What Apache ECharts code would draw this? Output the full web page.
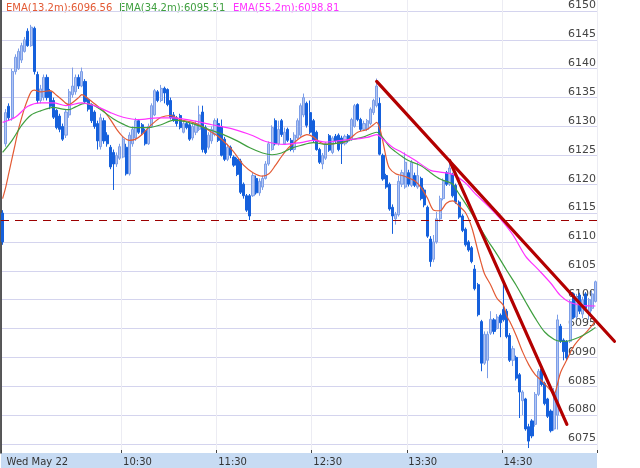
<!DOCTYPE html>
<html>
<head>
<meta charset="utf-8">
<script src="https://cdn.jsdelivr.net/npm/echarts@6/dist/echarts.min.js"></script>
<style>
html,body{margin:0;padding:0;background:#fff;}
#chart{width:640px;height:468px;}
</style>
</head>
<body>
<div id="chart"></div>
<script>
// ---- categories (2-minute bars) ----
const times = [];
for (let m = 554; m <= 928; m += 2) {
  times.push(String(Math.floor(m / 60)).padStart(2, '0') + ':' + String(m % 60).padStart(2, '0'));
}
const tickIndex = [0, 38, 68, 98, 128, 158];
const tickText = ['Wed May 22', '10:30', '11:30', '12:30', '13:30', '14:30'];

// ---- y axis ----
const yMin = 6075, yMax = 6150, yStep = 5;
const prevClose = 6113.8;

// ---- candles: [open, close, low, high] ----
const ohlc = [
[6115,6110,6109.5,6115.5],[6127,6132.4,6126.5,6133],[6133.5,6131.5,6131,6134],[6131.5,6139.5,6131,6140],
[6139.5,6142,6139,6142.5],[6140,6143,6139.8,6143.5],[6141.5,6144,6141,6144.5],[6143,6145,6142.8,6145.5],
[6146.5,6144,6143.8,6147],[6144,6147.2,6143.8,6147.6],[6147,6139.5,6139,6147.3],[6139,6134.5,6134,6139.5],
[6134.5,6136.5,6134,6137.2],[6135,6138.5,6134.5,6139],[6138.5,6135,6134.5,6139],[6136,6133.5,6133,6136.5],
[6134.5,6131.6,6131.3,6135],[6132.8,6129.8,6129.5,6133],[6131.8,6129.5,6129,6132.2],[6130,6127.8,6127.5,6130.5],
[6128.5,6132.5,6128,6133],[6132,6136,6131.5,6136.5],[6135.5,6137,6135,6140.2],[6136,6138.5,6135.5,6139],
[6138.5,6137,6136.5,6139],[6137,6139.5,6136.8,6140.2],[6137.8,6134.3,6134,6138.2],[6134.7,6133,6132.6,6135],
[6133.8,6131,6130.6,6134],[6132.5,6130,6129.6,6132.8],[6130.5,6127.5,6126,6131],[6126.5,6131.5,6126,6132.2],
[6131,6127.5,6127,6131.5],[6128.5,6127,6126.5,6129],[6126.4,6123,6122.6,6126.8],[6125.5,6123.5,6119,6126],
[6123.5,6125,6123,6125.5],[6124.5,6126.5,6124.2,6127],[6124.7,6127.8,6124.5,6128.2],[6126.4,6121.8,6121.5,6127],
[6121.8,6128.5,6121.5,6129],[6127,6129.5,6126.5,6130],[6128,6131,6127.5,6131.5],[6131,6129,6128.7,6131.3],
[6130.3,6128.9,6128.5,6130.6],[6129.3,6127,6126.7,6129.6],[6127,6130,6126.8,6130.5],[6130,6133.6,6129.8,6134],
[6132,6136.2,6131.8,6136.5],[6136,6134.5,6134.2,6136.3],[6134.5,6136.6,6134.2,6137.2],[6136.6,6135.8,6134,6136.9],
[6136.4,6133.8,6133.5,6136.6],[6134.5,6131.5,6131.2,6135],[6132,6131,6130.8,6132.5],[6131.5,6130.5,6130,6131.8],
[6131.9,6129.8,6129.5,6132.2],[6129,6130.5,6128.8,6131],[6130.5,6129.8,6129.5,6130.8],[6130.3,6127.8,6127.5,6130.6],
[6128,6130,6127.6,6130.5],[6129,6130.5,6128.5,6131],[6129.5,6132,6129.2,6133.6],[6132.5,6126,6125.5,6133.6],
[6129.8,6125.5,6125.2,6130.2],[6126.4,6128.5,6126,6129],[6127.5,6129.5,6127,6130],[6128.6,6131,6128.3,6131.4],
[6130.5,6127.6,6127.3,6131.4],[6130,6125,6124.8,6131.2],[6127.8,6124.3,6124,6128.2],[6124.3,6126.4,6124,6127],
[6126.4,6125,6124.5,6126.7],[6124.7,6123.3,6123,6125],[6124.3,6121.7,6121.4,6124.6],[6124,6118.6,6118.3,6124.4],
[6120,6118,6117.5,6120.3],[6118,6115.5,6115.2,6118.3],[6118,6114.5,6113.8,6118.3],[6118,6121.5,6117.8,6122],
[6121,6118.5,6118.2,6121.5],[6118.5,6120.5,6118,6121],[6119.5,6121,6119,6121.5],[6121,6123.5,6120.8,6124],
[6123.5,6127,6123.2,6127.4],[6126,6129.8,6125.8,6130.2],[6131,6127,6126.7,6131.4],[6127,6129.5,6126.7,6131],
[6131,6128.6,6128.2,6131.3],[6127,6129,6126.8,6129.8],[6129.5,6127.6,6127.3,6129.8],[6127.6,6126,6125.7,6128],
[6126,6128.5,6125.5,6129],[6128,6131,6127.8,6131.4],[6128.5,6133.6,6128.2,6134],[6132,6135,6131.6,6135.7],
[6134,6130.2,6129.8,6134.3],[6132.4,6129,6128.7,6134.5],[6131,6127.6,6127.3,6131.3],[6129,6126,6125.8,6129.3],
[6126,6123.8,6123.5,6126.3],[6123.5,6125,6122.6,6125.4],[6124.5,6127,6124.2,6127.3],[6128.4,6125.9,6125.6,6128.7],
[6125.5,6128,6125.2,6128.3],[6128.3,6127.5,6127.1,6128.7],[6128.5,6126,6125.7,6128.8],[6128,6127,6123.5,6128.4],
[6127,6128.3,6126.7,6128.6],[6128.4,6127.5,6127.2,6128.7],[6127.8,6131.2,6127.5,6131.5],[6130,6133.6,6129.8,6133.9],
[6133.8,6131.2,6130.9,6134],[6131.2,6129.5,6129.2,6131.5],[6129.5,6130.5,6129.2,6131],[6129.5,6131,6129.2,6131.3],
[6130.5,6133,6130.2,6133.3],[6132.4,6134.5,6132,6134.8],[6133.6,6137,6133.3,6138.3],[6134,6125.2,6125,6135],
[6125,6120.9,6120.6,6125.3],[6121.5,6119.5,6119.2,6121.8],[6120,6115.7,6115.4,6120.3],[6116,6114.5,6111.4,6116.5],
[6114,6114.8,6113,6115.2],[6114.7,6120.5,6114.4,6121.5],[6120,6122,6119.5,6122.5],[6119.5,6123.8,6119.2,6125.5],
[6122,6120,6119.6,6122.5],[6119.8,6123.8,6119.5,6124.2],[6121.5,6119.8,6119.5,6122],[6119.5,6121.5,6119.2,6123.8],
[6121,6117.5,6117.2,6121.3],[6119,6116.4,6116,6119.4],[6116,6111,6110.7,6116.3],[6110.5,6106.6,6105.7,6111],
[6107,6110,6106.5,6111.2],[6110,6114,6109.7,6115.2],[6114,6117.5,6113.5,6118],[6117.5,6120.5,6117.2,6121],
[6122,6120,6119.7,6122.3],[6120,6122.8,6119.7,6124.1],[6121.7,6118,6117.7,6122],[6119.8,6116.9,6116.6,6120.1],
[6116.9,6114.3,6114,6117.2],[6114.5,6112,6111.7,6114.8],[6112.2,6109.5,6109.2,6112.5],[6110,6108.6,6108.3,6110.3],
[6109,6106.6,6106.3,6109.3],[6105.3,6101.9,6101.6,6106],[6102.6,6097.4,6097.1,6102.9],[6096.2,6089,6087.6,6096.5],
[6089,6094,6088.7,6094.5],[6089.5,6094,6086.4,6094.5],[6094.2,6096.6,6093.9,6098],[6096.5,6094.5,6094,6096.8],
[6095,6097,6094.8,6097.5],[6097.3,6096,6093.5,6097.6],[6098.3,6096.5,6096.2,6103],[6098,6093.6,6093.3,6098.4],
[6093.8,6089.5,6089.2,6094.2],[6089.5,6091.5,6088.5,6092],[6090,6086.4,6086,6090.3],[6087,6084,6079.5,6087.3],
[6082.5,6084,6080,6084.3],[6082.8,6077.6,6077.3,6083],[6078,6075.5,6074.3,6078.5],[6079,6076.4,6076,6079.3],
[6078.4,6083.6,6078,6084],[6083.6,6087.6,6083.3,6088],[6088,6085.3,6085,6088.3],[6085.5,6082,6081.7,6085.8],
[6082.8,6079.8,6079.5,6083],[6080.7,6077.3,6077,6081],[6077.6,6084,6077.3,6084.7],[6080,6096.5,6077.5,6097.4],
[6095.4,6092.8,6092.5,6095.8],[6093,6091,6089.5,6093.3],[6092.8,6089.9,6089.5,6093],[6092.8,6099.7,6092.5,6100],
[6101,6096.9,6096.6,6101.3],[6097,6100.5,6096.6,6101],[6100.8,6098,6097.5,6101.2],[6097.5,6100,6096.8,6100.5],
[6101,6098.5,6098.2,6101.3],[6097.5,6100,6096.5,6100.3],[6098.5,6101,6098,6101.5],[6099.7,6103.1,6099.5,6103.3]
];

// ---- EMA lines: [bar index, value] ----
const ema13 = [
[0,6117.5],[1,6119.5],[2,6122],[3,6124.5],[4,6127],[5,6129.5],[6,6131.5],[7,6133.3],[8,6134.8],[9,6136],[10,6136.3],
[12,6136],[15,6136.2],[17,6135.4],[19,6134.5],[20,6134],[21,6133.8],[22,6134.1],[24,6135],[25,6135.5],[27,6134.8],
[30,6133.5],[32,6132.6],[34,6131.2],[36,6129.5],[38,6128.2],[40,6127.6],[42,6127.8],[44,6128.6],[46,6129.8],
[48,6130.8],[50,6131.6],[53,6131.9],[56,6131.2],[60,6130.7],[63,6130],[66,6129],[68,6128.3],[70,6127.3],
[72,6126.2],[74,6124.8],[76,6123.3],[79,6122],[82,6121.4],[84,6121.8],[86,6123.2],[88,6124.8],[90,6126.2],
[92,6127.2],[94,6128.1],[96,6128.6],[98,6128.2],[100,6127.3],[102,6126.9],[104,6127],[108,6127.3],[110,6128.1],
[112,6129],[115,6129.5],[117,6130.3],[118,6130.7],[119,6129.6],[120,6127.3],[121,6124.6],[122,6122.8],
[124,6121.8],[126,6121.5],[128,6121.1],[130,6120.6],[132,6119.4],[134,6117.6],[136,6115.5],[138,6115.4],
[140,6116.7],[142,6117.1],[144,6116.2],[146,6115.1],[148,6112.5],[150,6108.3],[151,6106.3],[152,6104.5],
[154,6102.5],[156,6100.2],[158,6099],[159,6097.2],[160,6096.2],[162,6093.8],[164,6091],[166,6088.7],[168,6087],
[170,6086],[172,6084.8],[174,6083.8],[175,6085.3],[176,6087.4],[178,6089.6],[180,6091.8],[182,6093.2],
[184,6094.3],[186,6095.6],[187,6096.3]
];
const ema34 = [
[0,6125.5],[3,6127.6],[6,6130.2],[9,6132],[12,6132.7],[16,6133.3],[19,6133],[21,6132.9],[23,6133.4],[26,6134],
[29,6133.6],[32,6132.5],[35,6131.3],[38,6130.4],[41,6129.8],[46,6129.8],[50,6130.3],[54,6131.1],[58,6130.8],
[62,6130.1],[66,6129.3],[70,6128.5],[74,6127.5],[78,6126.3],[82,6125.4],[85,6125.1],[88,6125.4],[91,6126.2],
[94,6126.7],[98,6127.2],[102,6126.9],[106,6127.1],[110,6127.7],[114,6128.2],[118,6129],[120,6128],[122,6126.5],
[124,6125.6],[126,6124.8],[128,6124.1],[132,6123.2],[135,6122],[138,6120.9],[141,6120.3],[142,6120],
[144,6118.3],[147,6115.8],[150,6113],[153,6110.3],[156,6107.8],[159,6105.1],[162,6102.5],[165,6099.6],
[168,6096.8],[171,6094.4],[174,6093.1],[176,6092.8],[178,6092.8],[180,6093.1],[183,6093.8],[186,6094.8],[187,6095.2]
];
const ema55 = [
[0,6130.7],[4,6131.6],[8,6133.5],[12,6134.1],[16,6134.1],[20,6133.6],[25,6134.1],[30,6133.4],[34,6132.4],
[38,6131.6],[43,6131.2],[49,6131.5],[54,6131.5],[60,6131],[66,6130.3],[73,6129.5],[79,6128.4],[83,6127.4],
[89,6126.9],[94,6127.2],[98,6127.6],[102,6127.3],[107,6127.6],[111,6127.8],[115,6128.1],[118,6128.6],
[120,6127.8],[123,6126.4],[126,6125.5],[130,6124.2],[135,6122.4],[138,6122.1],[142,6121.7],[146,6120.2],
[149,6118.4],[153,6116.3],[157,6114],[161,6111.2],[165,6107.5],[169,6105.2],[173,6102.8],[176,6100.7],
[179,6099.5],[183,6099],[187,6098.9]
];
const emaNames = ['EMA(13,2m)', 'EMA(34,2m)', 'EMA(55,2m)'];
const emaLast = [6096.56, 6095.51, 6098.81];

// ---- drawn trend lines: [bar index, price] ----
const trendA = [[118, 6137.8], [193, 6092.8]];
const trendB = [[141, 6124.1], [178, 6078.4]];

const emaColors = ['#e35a34', '#3f9f3f', '#ff33ff'];
const legendX = [6, 119, 233];
const FONT = '"DejaVu Sans", Verdana, sans-serif';

const showTick = (i) => tickIndex.indexOf(i) >= 0;

const chart = echarts.init(document.getElementById('chart'), null, {renderer: 'canvas'});
const baseGraphic = [
  {type: 'rect', silent: true, z: -1, shape: {x: 1, y: 453, width: 596, height: 15}, style: {fill: '#c7dbf3'}}
].concat(emaNames.map((n, k) => ({
  type: 'text', silent: true, x: legendX[k], y: 3,
  style: {text: n + ':' + emaLast[k].toFixed(2), fill: emaColors[k], font: '10px ' + FONT, verticalAlign: 'top'}
})));

const option = {
  animation: false,
  backgroundColor: '#ffffff',
  grid: [
    {left: 1, right: 43, top: 8, bottom: 24},
    {left: 1, right: 43, top: 0, bottom: 15}
  ],
  xAxis: [
    {type: 'category', gridIndex: 0, data: times, boundaryGap: true,
     axisLine: {show: false}, axisTick: {show: false}, axisLabel: {show: false}, splitLine: {show: false}},
    {type: 'category', gridIndex: 1, data: times, boundaryGap: true,
     axisLine: {show: false},
     axisTick: {show: true, inside: true, length: 3, interval: showTick, lineStyle: {color: '#444'}},
     axisLabel: {interval: showTick, align: 'left', margin: 4, color: '#333', fontSize: 10, fontFamily: FONT,
       formatter: (v, i) => {
         const k = tickIndex.indexOf(i);
         if (k === 0) return '{a|' + tickText[k] + '}';
         return k >= 0 ? tickText[k] : '';
       },
       rich: {a: {padding: [0, 0, 0, 4], color: '#333', fontSize: 10, fontFamily: FONT}}
     },
     splitLine: {show: true, interval: showTick, lineStyle: {color: '#ececf3'}}}
  ],
  yAxis: [
    {type: 'value', gridIndex: 0, position: 'right', min: yMin, max: yMax, interval: yStep,
     axisLine: {show: false}, axisTick: {show: false},
     axisLabel: {inside: true, margin: 1, verticalAlign: 'bottom', color: '#444', fontSize: 11, fontFamily: FONT,
       formatter: (v) => String(v)},
     splitLine: {lineStyle: {color: '#d4d4ee', width: 1}}},
    {type: 'value', gridIndex: 1, position: 'left', min: 0, max: 1,
     axisLine: {show: true, lineStyle: {color: '#222', width: 1.5}}, axisTick: {show: false},
     axisLabel: {show: false}, splitLine: {show: false}}
  ],
  graphic: baseGraphic,
  series: [
    {type: 'candlestick', xAxisIndex: 0, yAxisIndex: 0, data: ohlc, barWidth: 2.6, clip: false, z: 2,
     itemStyle: {color: '#b3c6f2', color0: '#1560dc', borderColor: '#7c9ee8', borderColor0: '#1560dc', borderWidth: 1},
     markLine: {silent: true, symbol: 'none', label: {show: false}, animation: false,
       lineStyle: {type: [8, 6], color: '#9b0000', width: 1.2},
       data: [{yAxis: prevClose}]}},
    {type: 'line', xAxisIndex: 0, yAxisIndex: 0, data: ema13, showSymbol: false, smooth: 0.3, z: 3,
     lineStyle: {color: emaColors[0], width: 1.2}},
    {type: 'line', xAxisIndex: 0, yAxisIndex: 0, data: ema34, showSymbol: false, smooth: 0.3, z: 3,
     lineStyle: {color: emaColors[1], width: 1.2}},
    {type: 'line', xAxisIndex: 0, yAxisIndex: 0, data: ema55, showSymbol: false, smooth: 0.3, z: 3,
     lineStyle: {color: emaColors[2], width: 1.2}}
  ]
};
chart.setOption(option);

// trend lines through the chart's own scales (extended past the last bar like the drawn line)
const lastIdx = times.length - 1;
const x0 = chart.convertToPixel({xAxisIndex: 0}, 0);
const x1 = chart.convertToPixel({xAxisIndex: 0}, lastIdx);
const xOf = (i) => x0 + (x1 - x0) * i / lastIdx;
const yOf = (v) => chart.convertToPixel({yAxisIndex: 0}, v);
const trendGraphic = [trendA, trendB].map((t) => ({
  type: 'line', silent: true, z: 10,
  shape: {x1: xOf(t[0][0]), y1: yOf(t[0][1]), x2: xOf(t[1][0]), y2: yOf(t[1][1])},
  style: {stroke: '#b30000', lineWidth: 3.2, lineCap: 'round'}
}));
chart.setOption({graphic: baseGraphic.concat(trendGraphic)});
</script>
</body>
</html>
